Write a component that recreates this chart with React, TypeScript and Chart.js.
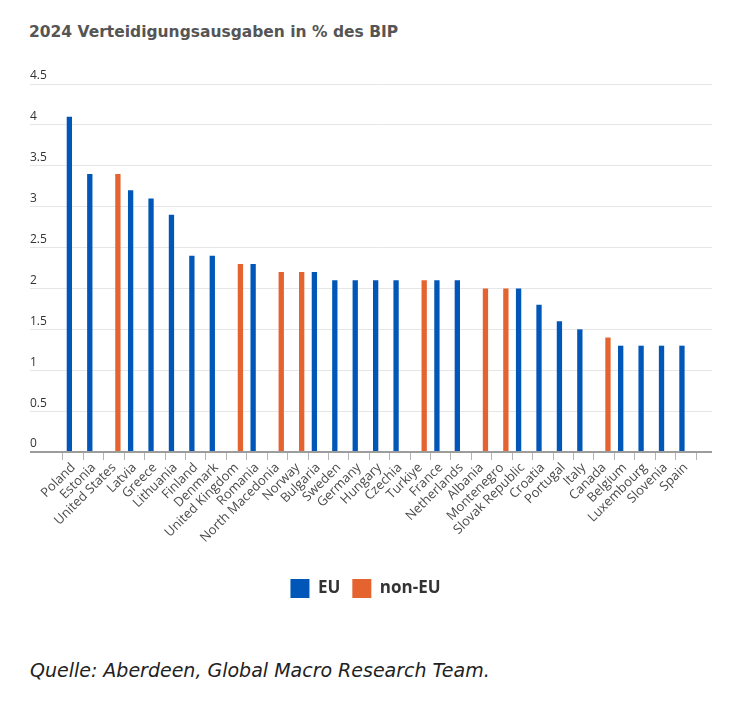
import React, { useEffect, useRef } from "react";
import { Chart, registerables } from "chart.js";

Chart.register(...registerables);

const titleText = "2024 Verteidigungsausgaben in % des BIP";
const sourceText = "Quelle: Aberdeen, Global Macro Research Team.";

const categories = [
  "Poland", "Estonia", "United States", "Latvia", "Greece", "Lithuania", "Finland", "Denmark",
  "United Kingdom", "Romania", "North Macedonia", "Norway", "Bulgaria", "Sweden", "Germany",
  "Hungary", "Czechia", "Turkiye", "France", "Netherlands", "Albania", "Montenegro",
  "Slovak Republic", "Croatia", "Portugal", "Italy", "Canada", "Belgium", "Luxembourg",
  "Slovenia", "Spain",
];

const euLabel = "EU";
const nonEuLabel = "non-EU";

const euValues = [
  4.1, 3.4, null, 3.2, 3.1, 2.9, 2.4, 2.4,
  null, 2.3, null, null, 2.2, 2.1, 2.1,
  2.1, 2.1, null, 2.1, 2.1, null, null,
  2.0, 1.8, 1.6, 1.5, null, 1.3, 1.3,
  1.3, 1.3,
];

const nonEuValues = [
  null, null, 3.4, null, null, null, null, null,
  2.3, null, 2.2, 2.2, null, null, null,
  null, null, 2.1, null, null, 2.0, 2.0,
  null, null, null, null, 1.4, null, null,
  null, null,
];

const yTickValues = [0, 0.5, 1, 1.5, 2, 2.5, 3, 3.5, 4, 4.5];

const BLUE = "#0057B8";
const ORANGE = "#E4632F";
const GRID = "#e6e6e6";
const AXIS = "#9c9c9c";
const FONT = "'Open Sans', sans-serif";
const WIDE = "'DejaVu Sans', sans-serif";

const legendShift = {
  id: "legendShift",
  afterLayout(chart: any) {
    if (chart.legend) {
      chart.legend.left -= 11;
    }
  },
};

export default function App() {
  const canvasRef = useRef<HTMLCanvasElement | null>(null);

  useEffect(() => {
    const canvas = canvasRef.current;
    if (!canvas) return;
    const setTicks = (scale: any) => {
      scale.ticks = yTickValues.map((v) => ({ value: v }));
    };
    const gridColor = (ctx: any) => (ctx.tick && ctx.tick.value === 0 ? AXIS : GRID);
    const gridWidth = (ctx: any) => (ctx.tick && ctx.tick.value === 0 ? 2 : 1);

    const chart = new Chart(canvas, {
      type: "bar",
      data: {
        labels: categories,
        datasets: [
          {
            label: euLabel,
            data: euValues,
            backgroundColor: BLUE,
            borderWidth: 0,
            categoryPercentage: 0.754,
            barPercentage: 0.69,
          },
          {
            label: nonEuLabel,
            data: nonEuValues,
            backgroundColor: ORANGE,
            borderWidth: 0,
            categoryPercentage: 0.754,
            barPercentage: 0.69,
          },
        ],
      },
      plugins: [legendShift],
      options: {
        animation: false,
        responsive: false,
        devicePixelRatio: 1,
        layout: { padding: { left: 22, right: 30, top: 24, bottom: 12 } },
        plugins: {
          tooltip: { enabled: false },
          title: { display: false },
          legend: {
            display: true,
            position: "bottom",
            labels: {
              boxWidth: 19,
              boxHeight: 19,
              padding: 12,
              color: "#333333",
              font: { family: FONT, size: 17, weight: "bold" },
            },
          },
        },
        scales: {
          x: {
            type: "category",
            offset: true,
            grid: {
              display: true,
              offset: true,
              drawOnChartArea: false,
              drawTicks: true,
              tickLength: 8,
              color: "#b4b4b4",
              lineWidth: 1,
            },
            border: { display: false },
            ticks: {
              autoSkip: false,
              minRotation: 45,
              maxRotation: 45,
              padding: 0,
              color: "#4a4a4a",
              font: { family: FONT, size: 13 },
            },
            afterFit: (scale: any) => {
              scale.height = 115;
            },
          },
          y: {
            type: "linear",
            position: "left",
            min: 0,
            max: 4.5,
            afterBuildTicks: setTicks,
            grid: {
              display: true,
              drawOnChartArea: true,
              drawTicks: true,
              tickLength: 33,
              color: gridColor,
              lineWidth: gridWidth,
            },
            border: { display: false },
            ticks: {
              crossAlign: "far",
              labelOffset: -8,
              padding: 0,
              color: "#333333",
              font: { family: FONT, size: 12 },
              callback: (v: any) => String(v),
            },
            afterFit: (scale: any) => {
              scale.width = 33;
            },
          },
          y2: {
            type: "linear",
            position: "right",
            min: 0,
            max: 4.5,
            afterBuildTicks: setTicks,
            grid: {
              display: true,
              drawOnChartArea: false,
              drawTicks: true,
              tickLength: 16,
              color: gridColor,
              lineWidth: gridWidth,
            },
            border: { display: false },
            ticks: { display: false },
            afterFit: (scale: any) => {
              scale.width = 16;
            },
          },
        },
      },
    });
    return () => chart.destroy();
  }, []);

  return (
    <div style={{ position: "relative", width: 734, height: 695, background: "#fff" }}>
      <div
        style={{
          position: "absolute",
          left: 21,
          top: 14,
          fontFamily: WIDE,
          fontWeight: 700,
          fontSize: 15.5,
          lineHeight: "20px",
          color: "#555555",
          whiteSpace: "nowrap",
        }}
      >
        {titleText}
      </div>
      <canvas
        ref={canvasRef}
        width={734}
        height={560}
        style={{ position: "absolute", left: 0, top: 52, width: 734, height: 560 }}
      />
      <div
        style={{
          position: "absolute",
          left: 22,
          top: 650,
          fontFamily: WIDE,
          fontStyle: "italic",
          fontSize: 19,
          lineHeight: "24px",
          color: "#222222",
          whiteSpace: "nowrap",
        }}
      >
        {sourceText}
      </div>
    </div>
  );
}
